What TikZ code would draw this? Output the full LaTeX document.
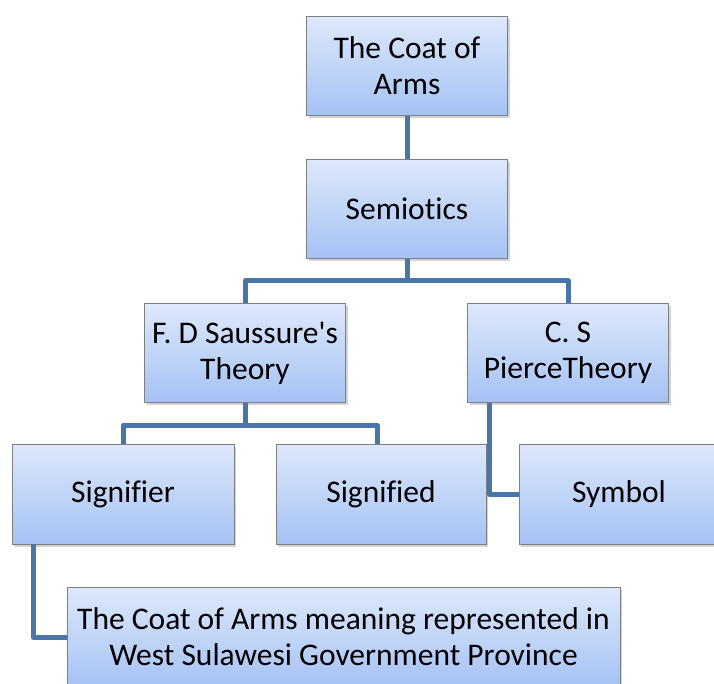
\documentclass[tikz,border=0pt]{standalone}
\usepackage{fontspec}
\setmainfont{Carlito}[Ligatures={NoCommon}]
\usepackage{xcolor}
\usetikzlibrary{positioning, shadows}
\definecolor{boxtop}{HTML}{DEE8FB}
\definecolor{boxbot}{HTML}{A4C2F4}
\definecolor{boxline}{HTML}{7F7F7F}
\definecolor{linkblue}{HTML}{4A75A9}

\begin{document}
\begin{tikzpicture}[
    x=1pt, y=-1pt,
    font=\fontsize{31.5}{36}\selectfont,
    box/.style={rectangle, draw=boxline, line width=0.8pt, top color=boxtop,
                bottom color=boxbot, align=center, inner sep=2pt,
                minimum width=201pt, minimum height=99pt,
                drop shadow={shadow xshift=2pt, shadow yshift=-2.5pt, opacity=0.35}},
    link/.style={line width=5pt, draw=linkblue, line cap=butt, line join=round}
  ]
    \useasboundingbox (0,0) rectangle (714,684);
    \clip (0,0) rectangle (714,684);

    \node[box] (coat)      at (407,66)  {The Coat of\\Arms};
    \node[box] (semiotics) at (407,209) {Semiotics};
    \node[box] (saussure)  at (245,353) {F. D Saussure\textquotesingle s\\Theory};
    \node[box] (pierce)    at (568,353) {C. S\\PierceTheory};
    \node[box, minimum width=222pt, minimum height=100pt] (signifier) at (123,494) {Signifier};
    \node[box, minimum width=210pt, minimum height=100pt] (signified) at (381,494) {Signified};
    \node[box, minimum width=200pt, minimum height=100pt] (symbol)    at (619,494) {Symbol};
    \node[box, minimum width=553pt, minimum height=100pt] (meaning)   at (343.5,637)
      {The Coat of Arms meaning represented in\\West Sulawesi Government Province};

    \coordinate (semfork) at (407,281);
    \coordinate (saufork) at (245,425);

    \draw[link] (coat.south) -- (semiotics.north);
    \draw[link] (semiotics.south) -- (semfork);
    \draw[link] (saussure.north) |- (semfork) -| (pierce.north);
    \draw[link] (saussure.south) -- (saufork);
    \draw[link] (signifier.north -| 123,0) |- (saufork) -| (signified.north -| 377,0);
    \draw[link] (pierce.south -| 489,0) |- (symbol.west);
    \draw[link] (signifier.south -| 33,0) |- (meaning.west);
\end{tikzpicture}
\end{document}
